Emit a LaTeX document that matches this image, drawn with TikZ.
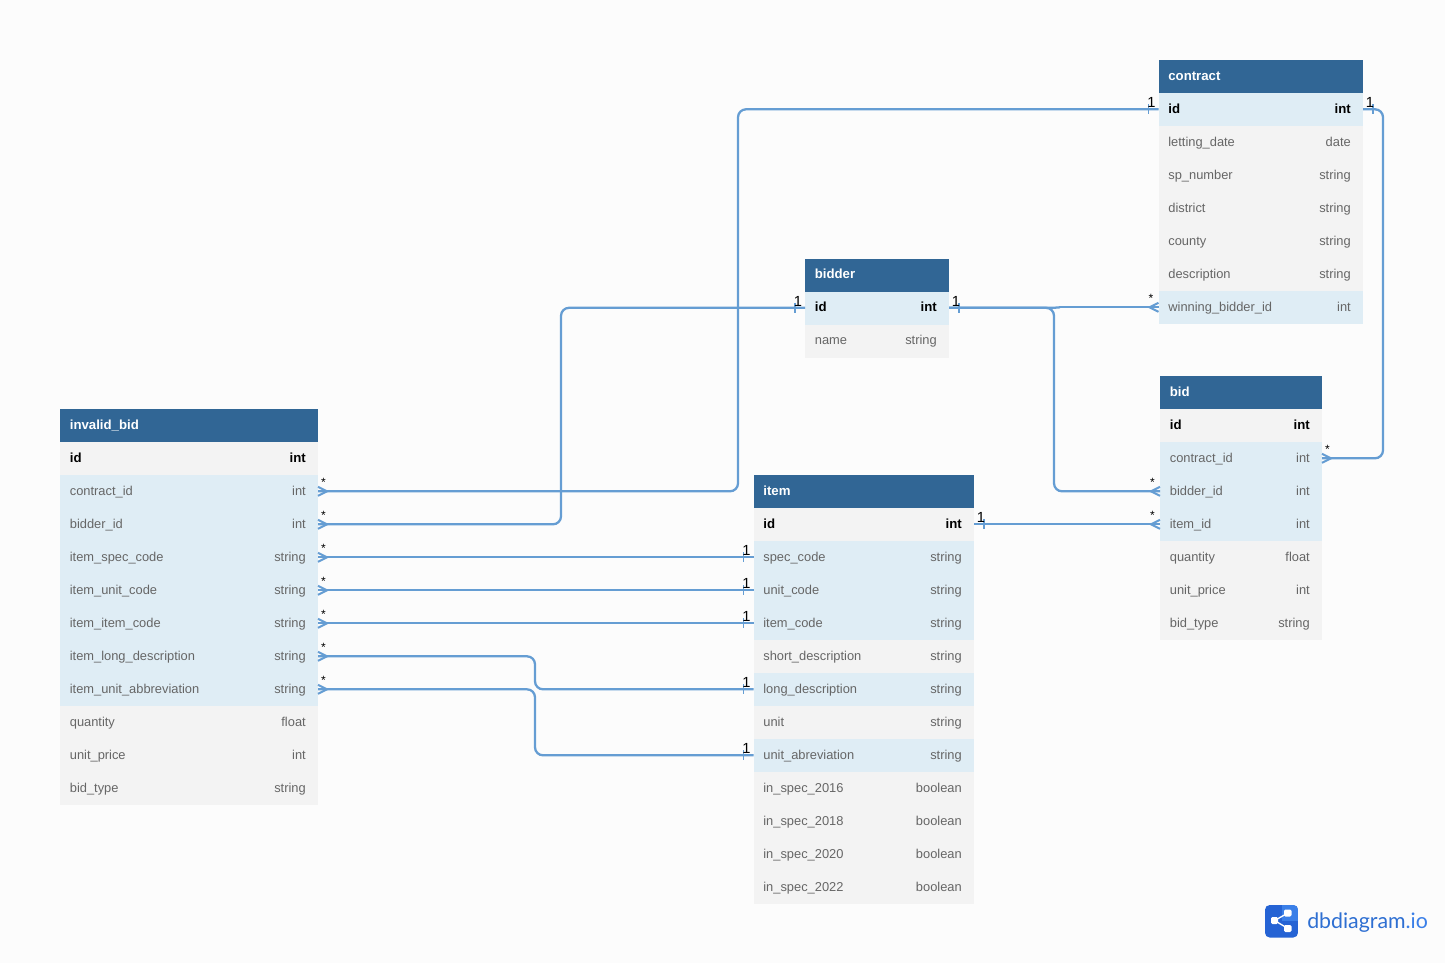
\documentclass[tikz,border=0pt]{standalone}
\usepackage{fontspec}
\setmainfont{Liberation Sans}
\newfontfamily\logofont{Lato}
\usetikzlibrary{calc}
\definecolor{pagebg}{HTML}{FCFCFC}
\definecolor{headbg}{HTML}{316695}
\definecolor{keybg}{HTML}{DFEDF5}
\definecolor{plainbg}{HTML}{F3F3F3}
\definecolor{fieldtext}{HTML}{666666}
\definecolor{relline}{HTML}{659DD3}
\definecolor{logodark}{HTML}{2563D4}
\definecolor{logolight}{HTML}{3A7FE8}
\definecolor{logotext}{HTML}{2E6FD2}
\tikzset{
  rowbox/.style={anchor=north west,inner sep=0pt,outer sep=0pt,minimum height=24.75pt},
  headbox/.style={rowbox,fill=headbg},
  keyrow/.style={rowbox,fill=keybg},
  plainrow/.style={rowbox,fill=plainbg},
  cell/.style={inner sep=0pt,outer sep=0pt,text height=7pt,text depth=2pt,yshift=-0.35pt,font=\fontsize{9.65pt}{11pt}\selectfont},
  celll/.style={cell,anchor=west,xshift=7.4pt},
  cellr/.style={cell,anchor=east,xshift=-9.2pt},
  rel/.style={draw=relline,line width=1.7pt,rounded corners=6pt,transform canvas={yshift=0.15pt}},
  relend/.style={draw=relline,line width=1.5pt,transform canvas={yshift=0.15pt}},
  reltick/.style={draw=relline,line width=1.4pt,transform canvas={yshift=0.15pt}},
  onelab/.style={inner sep=0pt,font=\fontsize{11pt}{12pt}\selectfont,text=black},
  manylab/.style={inner sep=0pt,font=\fontsize{9pt}{10pt}\selectfont,text=black},
}
% #1 name, #2 x, #3 y, #4 width, #5 title
\newcommand{\dbhead}[5]{%
  \node[headbox,minimum width=#4*0.75pt] (#1) at (#2,#3) {};
  \node[celll,text=white,font=\fontsize{9.9pt}{11pt}\bfseries\selectfont] (#1-l) at (#1.west) {#5};
}
% #1 name, #2 x, #3 y, #4 width, #5 label, #6 type, #7 row style, #8 text colour+font
\newcommand{\dbrow}[8]{%
  \node[#7,minimum width=#4*0.75pt] (#1) at (#2,#3) {};
  \node[celll,#8] (#1-l) at (#1.west) {#5};
  \node[cellr,#8] (#1-t) at (#1.east) {#6};
}
\tikzset{pk/.style={text=black,font=\fontsize{9.9pt}{11pt}\bfseries\selectfont},fk/.style={text=fieldtext}}
\newcommand{\oneE}[1]{%
  \draw[reltick] ([shift={(10,-5)}]#1.east) -- ([shift={(10,5)}]#1.east);
  \node[onelab] (#1-one) at ([shift={(7,-7)}]#1.east) {1};
}
\newcommand{\oneW}[1]{%
  \draw[reltick] ([shift={(-10,-5)}]#1.west) -- ([shift={(-10,5)}]#1.west);
  \node[onelab] (#1-one) at ([shift={(-7,-7)}]#1.west) {1};
}
\newcommand{\manyE}[1]{%
  \draw[relend] ([shift={(0,-4.5)}]#1.east) -- ([shift={(9,0)}]#1.east) -- ([shift={(0,4.5)}]#1.east);
  \node[manylab] (#1-many) at ([shift={(5.5,-9.5)}]#1.east) {*};
}
\newcommand{\manyW}[1]{%
  \draw[relend] ([shift={(0,-4.5)}]#1.west) -- ([shift={(-9,0)}]#1.west) -- ([shift={(0,4.5)}]#1.west);
  \node[manylab] (#1-many) at ([shift={(-7.5,-9.5)}]#1.west) {*};
}
\begin{document}
\begin{tikzpicture}[x=0.75pt,y=-0.75pt]
\fill[pagebg] (0,0) rectangle (1445,963);
\useasboundingbox (0,0) rectangle (1445,963);

% contract
\dbhead{ct}{1158.5}{60}{204.5}{contract}
\dbrow{ct0}{1158.5}{93}{204.5}{id}{int}{keyrow}{pk}
\dbrow{ct1}{1158.5}{126}{204.5}{letting\_date}{date}{plainrow}{fk}
\dbrow{ct2}{1158.5}{159}{204.5}{sp\_number}{string}{plainrow}{fk}
\dbrow{ct3}{1158.5}{192}{204.5}{district}{string}{plainrow}{fk}
\dbrow{ct4}{1158.5}{225}{204.5}{county}{string}{plainrow}{fk}
\dbrow{ct5}{1158.5}{258}{204.5}{description}{string}{plainrow}{fk}
\dbrow{ct6}{1158.5}{291}{204.5}{winning\_bidder\_id}{int}{keyrow}{fk}

% bidder
\dbhead{bd}{805}{258.5}{144}{bidder}
\dbrow{bd0}{805}{291.5}{144}{id}{int}{keyrow}{pk}
\dbrow{bd1}{805}{324.5}{144}{name}{string}{plainrow}{fk}

% bid
\dbhead{bi}{1160}{376}{162}{bid}
\dbrow{bi0}{1160}{409}{162}{id}{int}{plainrow}{pk}
\dbrow{bi1}{1160}{442}{162}{contract\_id}{int}{keyrow}{fk}
\dbrow{bi2}{1160}{475}{162}{bidder\_id}{int}{keyrow}{fk}
\dbrow{bi3}{1160}{508}{162}{item\_id}{int}{keyrow}{fk}
\dbrow{bi4}{1160}{541}{162}{quantity}{float}{plainrow}{fk}
\dbrow{bi5}{1160}{574}{162}{unit\_price}{int}{plainrow}{fk}
\dbrow{bi6}{1160}{607}{162}{bid\_type}{string}{plainrow}{fk}

% invalid_bid
\dbhead{ib}{60}{409}{258}{invalid\_bid}
\dbrow{ib0}{60}{442}{258}{id}{int}{plainrow}{pk}
\dbrow{ib1}{60}{475}{258}{contract\_id}{int}{keyrow}{fk}
\dbrow{ib2}{60}{508}{258}{bidder\_id}{int}{keyrow}{fk}
\dbrow{ib3}{60}{541}{258}{item\_spec\_code}{string}{keyrow}{fk}
\dbrow{ib4}{60}{574}{258}{item\_unit\_code}{string}{keyrow}{fk}
\dbrow{ib5}{60}{607}{258}{item\_item\_code}{string}{keyrow}{fk}
\dbrow{ib6}{60}{640}{258}{item\_long\_description}{string}{keyrow}{fk}
\dbrow{ib7}{60}{673}{258}{item\_unit\_abbreviation}{string}{keyrow}{fk}
\dbrow{ib8}{60}{706}{258}{quantity}{float}{plainrow}{fk}
\dbrow{ib9}{60}{739}{258}{unit\_price}{int}{plainrow}{fk}
\dbrow{ib10}{60}{772}{258}{bid\_type}{string}{plainrow}{fk}

% item
\dbhead{it}{753.5}{475}{220.5}{item}
\dbrow{it0}{753.5}{508}{220.5}{id}{int}{plainrow}{pk}
\dbrow{it1}{753.5}{541}{220.5}{spec\_code}{string}{keyrow}{fk}
\dbrow{it2}{753.5}{574}{220.5}{unit\_code}{string}{keyrow}{fk}
\dbrow{it3}{753.5}{607}{220.5}{item\_code}{string}{keyrow}{fk}
\dbrow{it4}{753.5}{640}{220.5}{short\_description}{string}{plainrow}{fk}
\dbrow{it5}{753.5}{673}{220.5}{long\_description}{string}{keyrow}{fk}
\dbrow{it6}{753.5}{706}{220.5}{unit}{string}{plainrow}{fk}
\dbrow{it7}{753.5}{739}{220.5}{unit\_abreviation}{string}{keyrow}{fk}
\dbrow{it8}{753.5}{772}{220.5}{in\_spec\_2016}{boolean}{plainrow}{fk}
\dbrow{it9}{753.5}{805}{220.5}{in\_spec\_2018}{boolean}{plainrow}{fk}
\dbrow{it10}{753.5}{838}{220.5}{in\_spec\_2020}{boolean}{plainrow}{fk}
\dbrow{it11}{753.5}{871}{220.5}{in\_spec\_2022}{boolean}{plainrow}{fk}

% bends of the connectors
\coordinate (j1) at (738,109.5);
\coordinate (j2) at (561,308);
\coordinate (j3) at (1383,109.5);
\coordinate (j4) at (1054,308);
\coordinate (j7) at (1060,307.5);
\coordinate (j5) at (535,689.5);
\coordinate (j6) at (535,755.5);

% connectors
\draw[rel] (ib1.east) -| (j1) -- (ct0.west);
\draw[rel] (ib2.east) -| (j2) -- (bd0.west);
\draw[rel] (ib3.east) -- (it1.west);
\draw[rel] (ib4.east) -- (it2.west);
\draw[rel] (ib5.east) -- (it3.west);
\draw[rel] (ib6.east) -| (j5) -- (it5.west);
\draw[rel] (ib7.east) -| (j6) -- (it7.west);
\draw[rel] (ct0.east) -- (j3) |- (bi1.east);
\draw[rel] (bd0.east) -- (j4) |- (bi2.west);
\draw[rel,rounded corners=0pt] (j7) -- (ct6.west);
\draw[rel,rounded corners=2pt] (bd0.east) -- (j4) -- (j7);
\draw[rel] (it0.east) -- (bi3.west);

% ends
\foreach \n in {ib1,ib2,ib3,ib4,ib5,ib6,ib7,bi1}{\manyE{\n}}
\foreach \n in {ct6,bi2,bi3}{\manyW{\n}}
\foreach \n in {ct0,bd0,it0}{\oneE{\n}}
\foreach \n in {ct0,bd0,it1,it2,it3,it5,it7}{\oneW{\n}}

% logo
\begin{scope}
  \clip[rounded corners=3.5pt] (1265,905) rectangle (1298,937.5);
  \fill[logodark] (1265,905) rectangle (1298,937.5);
  \fill[logolight] (1281.5,905) rectangle (1298,921);
\end{scope}
\coordinate (lgA) at (1274.5,920.5);
\coordinate (lgB) at (1288,913);
\coordinate (lgC) at (1288,928.5);
\draw[white,line width=1pt] (lgB) -- (lgA) -- (lgC);
\fill[white,rounded corners=1pt] (1271,917) rectangle (1278,924);
\fill[white,rounded corners=1pt] (1284,909.5) rectangle (1291.5,916.5);
\fill[white,rounded corners=1pt] (1284,925) rectangle (1291.5,932);
\node[inner sep=0pt,anchor=base west,font=\logofont\fontsize{16pt}{18pt}\selectfont] (logotxt) at (1307,928) {\textcolor{logotext}{dbdiagram}\textcolor{logolight}{.io}};
\end{tikzpicture}
\end{document}
